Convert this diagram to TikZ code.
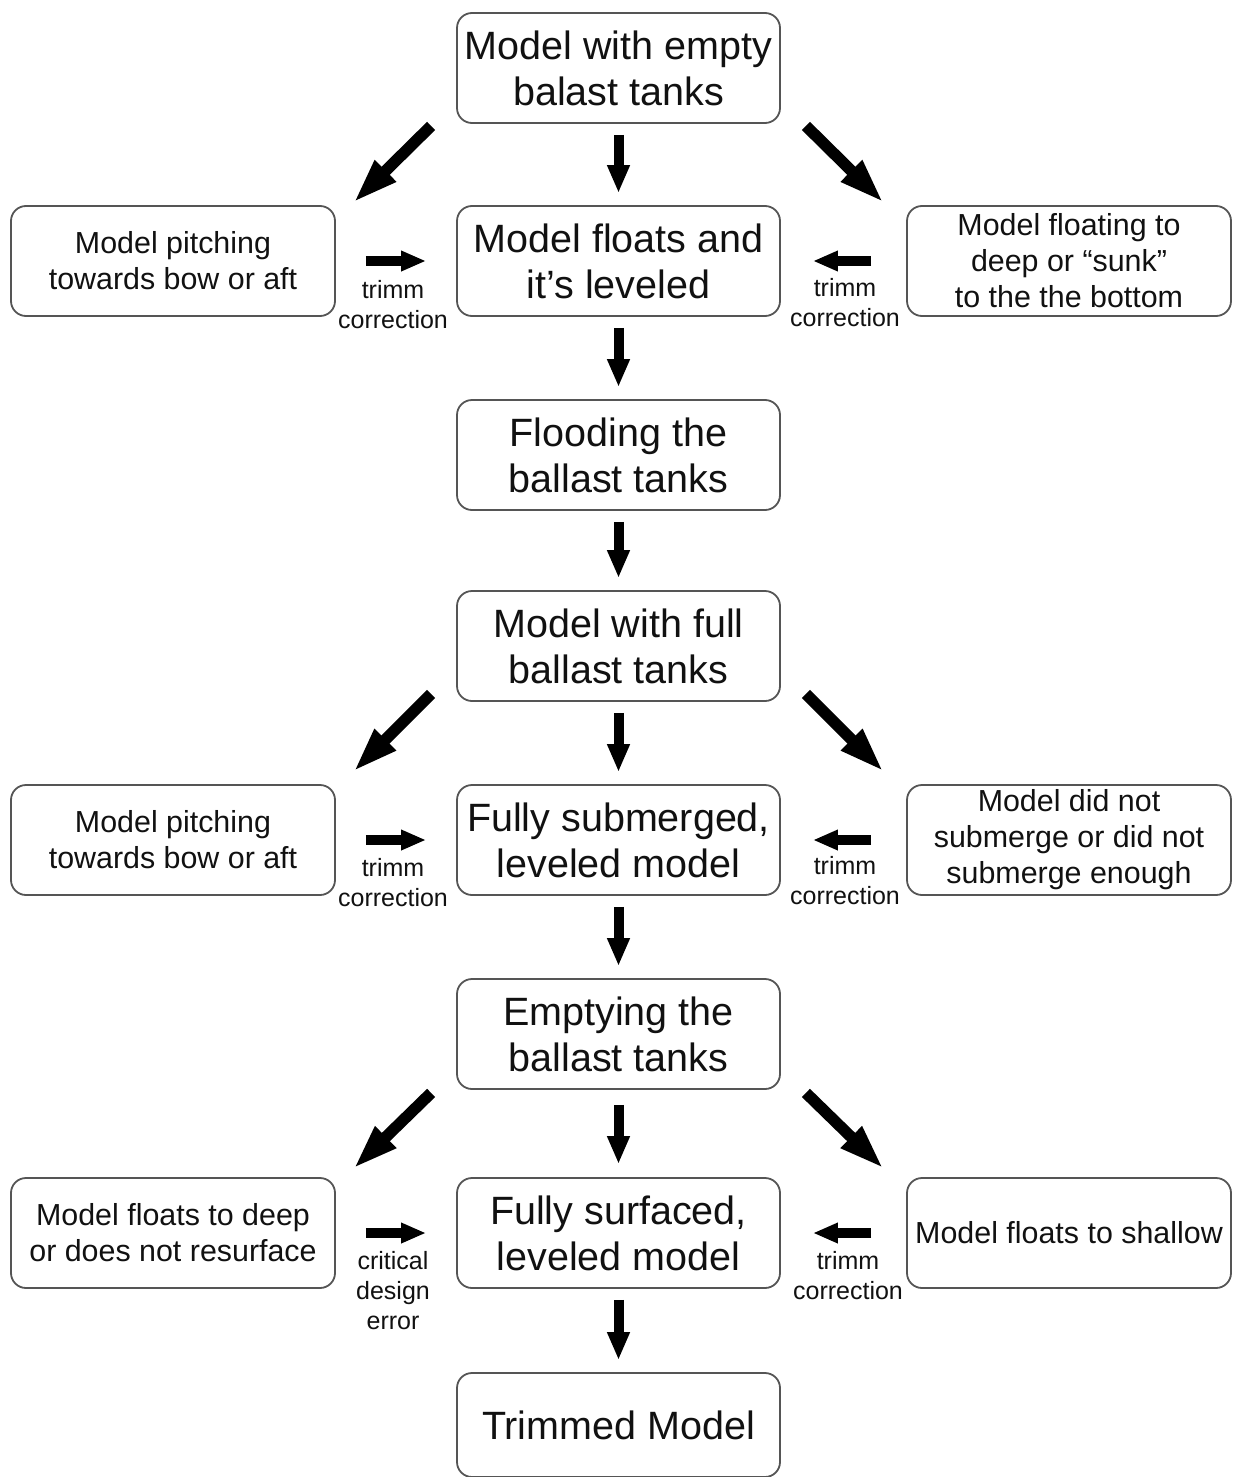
\documentclass[tikz,border=0pt]{standalone}
\usepackage{fontspec}
\setmainfont{Liberation Sans}
\usetikzlibrary{arrows.meta}
\definecolor{boxline}{HTML}{555555}
\definecolor{txt}{HTML}{111111}
\tikzset{
  mainbox/.style={draw=boxline, line width=1.8pt, rounded corners=15pt, minimum width=323pt, minimum height=110pt, inner sep=0pt, align=center, text=txt, font=\fontsize{39.5}{46}\selectfont},
  sidebox/.style={draw=boxline, line width=1.8pt, rounded corners=15pt, minimum width=324pt, minimum height=110pt, inner sep=0pt, align=center, text=txt, font=\fontsize{30.4}{36}\selectfont},
  lbl/.style={align=center, inner sep=0pt, text=txt, font=\fontsize{25}{30}\selectfont},
  varr/.style={line width=10pt, -{Triangle[width=21pt,length=28pt]}, shorten <=11pt, shorten >=12pt},
  harr/.style={line width=10pt, -{Triangle[width=19pt,length=25pt]}},
  darr/.style={line width=11.5pt, -{Triangle[width=27pt,length=46pt]}}
}
\begin{document}
\begin{tikzpicture}[x=1pt,y=-1pt]
\useasboundingbox (0,0) rectangle (1233,1477);
\fill[white] (0,0) rectangle (1233,1477);
% center column
\node[mainbox] (b1) at (618.5,68) {Model with empty\\balast tanks};
\node[mainbox] (b2) at (618.5,261) {Model floats and\\it’s leveled};
\node[mainbox] (b3) at (618.5,455) {Flooding the\\ballast tanks};
\node[mainbox] (b4) at (618.5,646) {Model with full\\ballast tanks};
\node[mainbox] (b5) at (618.5,840) {Fully submerged,\\leveled model};
\node[mainbox] (b6) at (618.5,1034) {Emptying the\\ballast tanks};
\node[mainbox] (b7) at (618.5,1233) {Fully surfaced,\\leveled model};
\node[mainbox, minimum height=104pt] (b8) at (618.5,1425) {Trimmed Model};
% side boxes
\node[sidebox] (l1) at (173,261) {Model pitching\\towards bow or aft};
\node[sidebox] (r1) at (1069,261) {Model floating to\\deep or “sunk”\\to the the bottom};
\node[sidebox] (l2) at (173,840) {Model pitching\\towards bow or aft};
\node[sidebox] (r2) at (1069,840) {Model did not\\submerge or did not\\submerge enough};
\node[sidebox] (l3) at (173,1233) {Model floats to deep\\or does not resurface};
\node[sidebox] (r3) at (1069,1233) {Model floats to shallow};
% vertical arrows
\draw[varr] (b1) -- (b2);
\draw[varr] (b2) -- (b3);
\draw[varr] (b3) -- (b4);
\draw[varr] (b4) -- (b5);
\draw[varr] (b5) -- (b6);
\draw[varr, shorten <=15pt, shorten >=13pt] (b6) -- (b7);
\draw[varr] (b7) -- (b8);
% diagonal arrows
\draw[darr] ([shift={(-25,2)}]b1.south west) -- ([shift={(17,-2)}]l1.north east);
\draw[darr] ([shift={(25,2)}]b1.south east) -- ([shift={(-22,-2)}]r1.north west);
\draw[darr] ([shift={(-25,-8)}]b4.south west) -- ([shift={(17,-12)}]l2.north east);
\draw[darr] ([shift={(25,-8)}]b4.south east) -- ([shift={(-22,-12)}]r2.north west);
\draw[darr] ([shift={(-25,3)}]b6.south west) -- ([shift={(17,-8)}]l3.north east);
\draw[darr] ([shift={(25,3)}]b6.south east) -- ([shift={(-22,-8)}]r3.north west);
% horizontal arrows
\draw[harr, shorten <=30pt, shorten >=30pt] (l1) -- (b2);
\draw[harr, shorten <=35pt, shorten >=32pt] (r1) -- (b2);
\draw[harr, shorten <=30pt, shorten >=30pt] (l2) -- (b5);
\draw[harr, shorten <=35pt, shorten >=32pt] (r2) -- (b5);
\draw[harr, shorten <=30pt, shorten >=30pt] (l3) -- (b7);
\draw[harr, shorten <=35pt, shorten >=32pt] (r3) -- (b7);
% labels
\node[lbl] (t1) at (393,305) {trimm\\correction};
\node[lbl] (t2) at (845,303) {trimm\\correction};
\node[lbl] (t3) at (393,883) {trimm\\correction};
\node[lbl] (t4) at (845,881) {trimm\\correction};
\node[lbl] (t5) at (393,1291) {critical\\design\\error};
\node[lbl] (t6) at (848,1276) {trimm\\correction};
\end{tikzpicture}
\end{document}
